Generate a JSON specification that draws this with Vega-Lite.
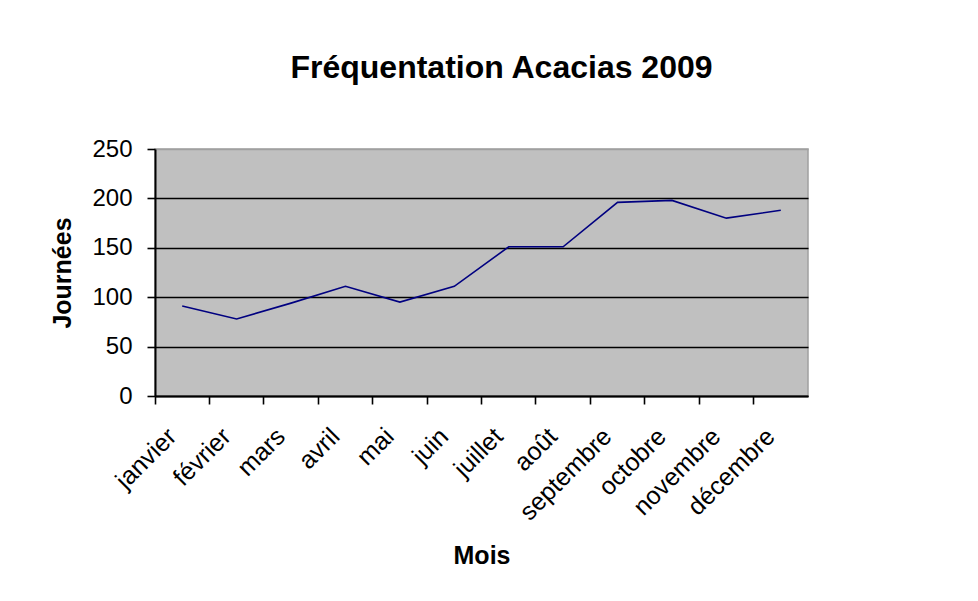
{
  "$schema": "https://vega.github.io/schema/vega-lite/v6.json",
  "width": 653,
  "height": 247,
  "autosize": "none",
  "padding": {"left": 155, "top": 149, "right": 170, "bottom": 205},
  "background": "white",
  "title": {
    "text": "Fréquentation Acacias 2009",
    "font": "Liberation Sans",
    "fontSize": 32,
    "fontWeight": "bold",
    "color": "black",
    "dx": 20,
    "offset": 52
  },
  "data": {
    "values": [
      {"mois": "janvier", "journees": 91},
      {"mois": "février", "journees": 78},
      {"mois": "mars", "journees": 94},
      {"mois": "avril", "journees": 111},
      {"mois": "mai", "journees": 95},
      {"mois": "juin", "journees": 111},
      {"mois": "juillet", "journees": 151},
      {"mois": "août", "journees": 151},
      {"mois": "septembre", "journees": 196},
      {"mois": "octobre", "journees": 198},
      {"mois": "novembre", "journees": 180},
      {"mois": "décembre", "journees": 188}
    ]
  },
  "mark": {"type": "line", "color": "#000080", "strokeWidth": 1.6},
  "encoding": {
    "x": {
      "field": "mois",
      "type": "ordinal",
      "sort": null,
      "scale": {"type": "band", "paddingInner": 0, "paddingOuter": 0},
      "axis": {
        "title": "Mois",
        "bandPosition": 0,
        "labelAngle": -45,
        "labelAlign": "right",
        "labelBaseline": "middle",
        "labelOffset": -10,
        "labelPadding": 28,
        "labelFontSize": 25,
        "labelOverlap": false,
        "labelBound": false,
        "labelFlush": false,
        "tickSize": 8,
        "grid": false,
        "titlePadding": 19
      }
    },
    "y": {
      "field": "journees",
      "type": "quantitative",
      "scale": {"domain": [0, 250], "nice": false},
      "axis": {
        "title": "Journées",
        "values": [0, 50, 100, 150, 200, 250],
        "tickSize": 8,
        "labelPadding": 15,
        "labelFontSize": 24,
        "titlePadding": 16,
        "grid": true,
        "gridColor": {"condition": {"test": "datum.value === 250", "value": "#A0A0A0"}, "value": "#000000"},
        "gridWidth": 1.6
      }
    }
  },
  "config": {
    "view": {"fill": "#C0C0C0", "stroke": "#A0A0A0", "strokeWidth": 1.5},
    "axis": {
      "labelFont": "Liberation Sans",
      "titleFont": "Liberation Sans",
      "labelColor": "black",
      "titleColor": "black",
      "titleFontSize": 25,
      "titleFontWeight": "bold",
      "domainColor": "black",
      "domainWidth": 2,
      "tickColor": "black",
      "tickWidth": 1.6
    }
  }
}
